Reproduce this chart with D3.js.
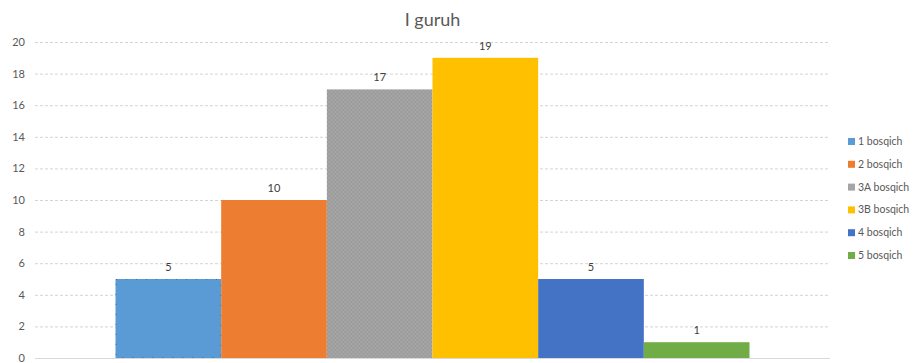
<!DOCTYPE html>
<html>
<head>
<meta charset="utf-8">
<script src="https://cdn.jsdelivr.net/npm/d3@7"></script>
<style>
  body { margin: 0; background: #fff; }
  text { font-family: Lato, "Open Sans", sans-serif; }
</style>
</head>
<body>
<div id="chart"></div>
<script>
const title = 'I guruh';
const categories = ['I guruh'];
const seriesNames = ['1 bosqich', '2 bosqich', '3A bosqich', '3B bosqich', '4 bosqich', '5 bosqich'];
const seriesValues = [5, 10, 17, 19, 5, 1];
const seriesColors = ['#5b9bd5', '#ed7d31', '#a5a5a5', '#ffc000', '#4472c4', '#70ad47'];
const yTicks = [0, 2, 4, 6, 8, 10, 12, 14, 16, 18, 20];

const width = 919;
const height = 363;
const margin = { top: 42, right: 89, bottom: 5, left: 35 };
const innerW = width - margin.left - margin.right;
const innerH = height - margin.top - margin.bottom;

const svg = d3.select('#chart')
  .append('svg')
  .attr('width', width)
  .attr('height', height);

// texture for the gray bar
const defs = svg.append('defs');
const pat = defs.append('pattern')
  .attr('id', 'grayTex')
  .attr('width', 4)
  .attr('height', 4)
  .attr('patternUnits', 'userSpaceOnUse');
pat.append('rect').attr('width', 4).attr('height', 4).attr('fill', '#a8a8a8');
pat.append('path').attr('d', 'M0,0L2,2L4,0M0,4L2,2L4,4')
  .attr('stroke', '#969696').attr('stroke-width', 0.8).attr('fill', 'none');

const g = svg.append('g')
  .attr('transform', `translate(${margin.left},${margin.top})`);

const y = d3.scaleLinear().domain([0, 20]).range([innerH, 0]);

const x0 = d3.scaleBand()
  .domain(categories)
  .range([0, innerW])
  .paddingInner(0)
  .paddingOuter(0.127);

const x1 = d3.scaleBand()
  .domain(seriesNames)
  .range([0, x0.bandwidth()])
  .padding(0);

// gridlines
g.append('g')
  .selectAll('line')
  .data(yTicks.filter((d) => d > 0))
  .enter()
  .append('line')
  .attr('x1', 0)
  .attr('x2', innerW)
  .attr('y1', (d) => y(d) + 0.5)
  .attr('y2', (d) => y(d) + 0.5)
  .attr('stroke', '#d4d4d4')
  .attr('stroke-width', 1)
  .attr('stroke-dasharray', '3,2');

// baseline
g.append('line')
  .attr('x1', 0)
  .attr('x2', innerW)
  .attr('y1', y(0) + 0.5)
  .attr('y2', y(0) + 0.5)
  .attr('stroke', '#d9d9d9');

// y axis labels
const yAxis = d3.axisLeft(y).tickValues(yTicks).tickSize(0).tickPadding(10);
g.append('g')
  .call(yAxis)
  .call((sel) => sel.select('.domain').remove())
  .selectAll('text')
  .attr('fill', '#595959')
  .style('font-size', '11px');

const data = seriesNames.map((name, i) => ({ name, value: seriesValues[i], color: seriesColors[i] }));

const group = g.append('g')
  .attr('transform', `translate(${x0(categories[0])},0)`);

group.selectAll('rect')
  .data(data)
  .enter()
  .append('rect')
  .attr('x', (d) => x1(d.name))
  .attr('y', (d) => y(d.value))
  .attr('width', x1.bandwidth())
  .attr('height', (d) => y(0) - y(d.value))
  .attr('fill', (d) => (d.name === '3A bosqich' ? 'url(#grayTex)' : d.color));

// dotted outline on first bar
group.append('rect')
  .attr('x', x1(seriesNames[0]) + 0.5)
  .attr('y', y(seriesValues[0]) + 0.5)
  .attr('width', x1.bandwidth() - 1)
  .attr('height', y(0) - y(seriesValues[0]) - 1)
  .attr('fill', 'none')
  .attr('stroke', '#3f6fa8')
  .attr('stroke-width', 1)
  .attr('stroke-dasharray', '1,9');

// value labels
group.selectAll('.val')
  .data(data)
  .enter()
  .append('text')
  .attr('class', 'val')
  .attr('x', (d) => x1(d.name) + x1.bandwidth() / 2)
  .attr('y', (d) => y(d.value) - 8)
  .attr('text-anchor', 'middle')
  .attr('fill', '#404040')
  .style('font-size', '11px')
  .text((d) => d.value);

// title
svg.append('text')
  .attr('x', margin.left + innerW / 2)
  .attr('y', 26)
  .attr('text-anchor', 'middle')
  .attr('fill', '#595959')
  .style('font-size', '18px')
  .text(title);

// legend
const legend = svg.append('g')
  .attr('transform', 'translate(848,138)');

const item = legend.selectAll('g')
  .data(data)
  .enter()
  .append('g')
  .attr('transform', (d, i) => `translate(0,${i * 22.8})`);

item.append('rect')
  .attr('width', 7)
  .attr('height', 7)
  .attr('fill', (d) => d.color);

item.append('text')
  .attr('x', 10)
  .attr('y', 7)
  .attr('fill', '#595959')
  .style('font-size', '10.5px')
  .text((d) => d.name);
</script>
</body>
</html>
